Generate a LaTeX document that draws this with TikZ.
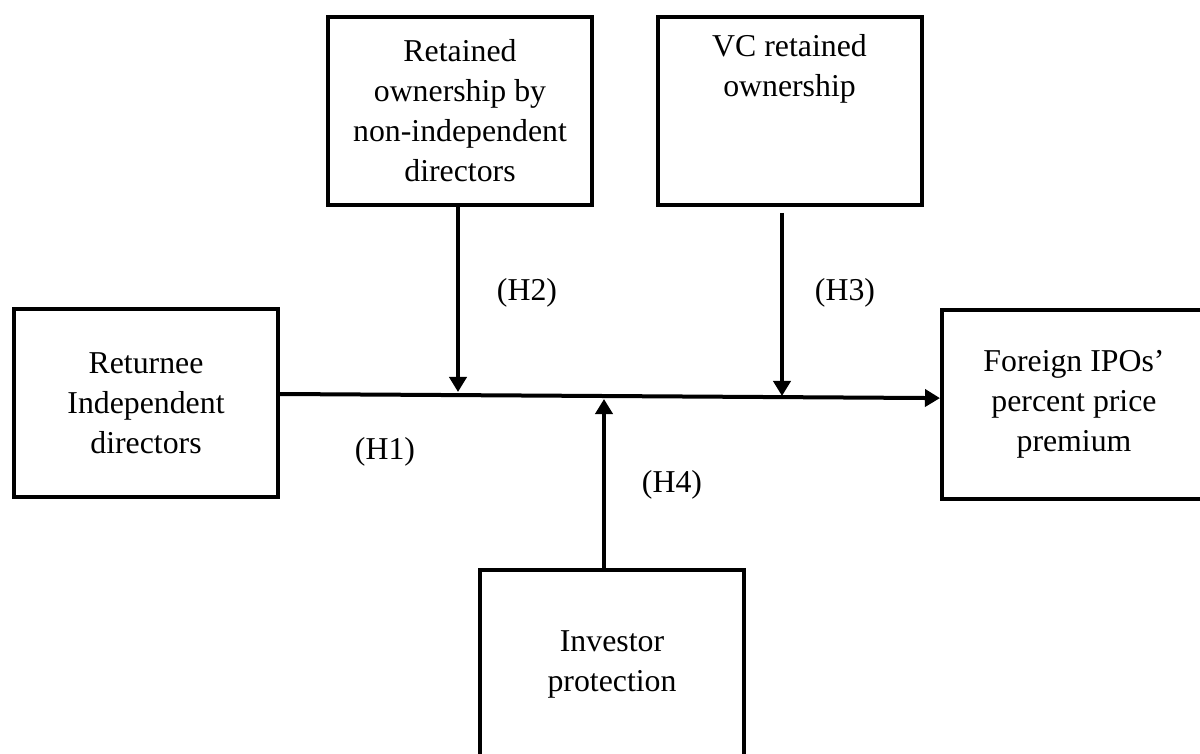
\documentclass[tikz,border=0pt]{standalone}
\usepackage{fontspec}
\setmainfont{Liberation Serif}
\usetikzlibrary{arrows.meta}
\begin{document}
\begin{tikzpicture}[x=0.5pt,y=-0.5pt,
  box/.style={draw=black,line width=2pt,minimum width=132pt,minimum height=94pt,
    inner sep=0pt,align=center,font=\fontsize{15.9pt}{20pt}\selectfont},
  lbl/.style={font=\fontsize{15.9pt}{20pt}\selectfont,inner sep=0pt},
  conn/.style={line width=2pt,-{Triangle[width=8.5pt,length=7.5pt]}}]
\useasboundingbox (0,0) rectangle (1200,754);
\clip (0,0) rectangle (1200,754);
\node[box] (lb) at (146,403) {Returnee\\Independent\\directors};
\node[box] (tl) at (460,111) {Retained\\ownership by\\non-independent\\directors};
\node[box] (tr) at (789.5,111) {VC retained\\ownership\\\strut\\\strut};
\node[box] (fp) at (1074,404.5) {Foreign IPOs’\\percent price\\premium};
\node[box] (inv) at (612,664) {Investor\\protection};
\coordinate (m2) at (458,392);
\coordinate (m3) at (782,396);
\coordinate (m4) at (604,399);
\draw[conn] ([yshift=4.5pt]lb.east) -- ([yshift=3.2pt]fp.west);
\draw[conn] ([xshift=-1pt]tl.south) -- (m2);
\draw[conn] ([xshift=-3.75pt,yshift=-3pt]tr.south) -- (m3);
\draw[conn] ([xshift=-4pt]inv.north) -- (m4);
\node[lbl] (h2) at (527,293) {(H2)};
\node[lbl] (h3) at (845,293) {(H3)};
\node[lbl] (h1) at (385,452) {(H1)};
\node[lbl] (h4) at (672,485) {(H4)};
\end{tikzpicture}
\end{document}
